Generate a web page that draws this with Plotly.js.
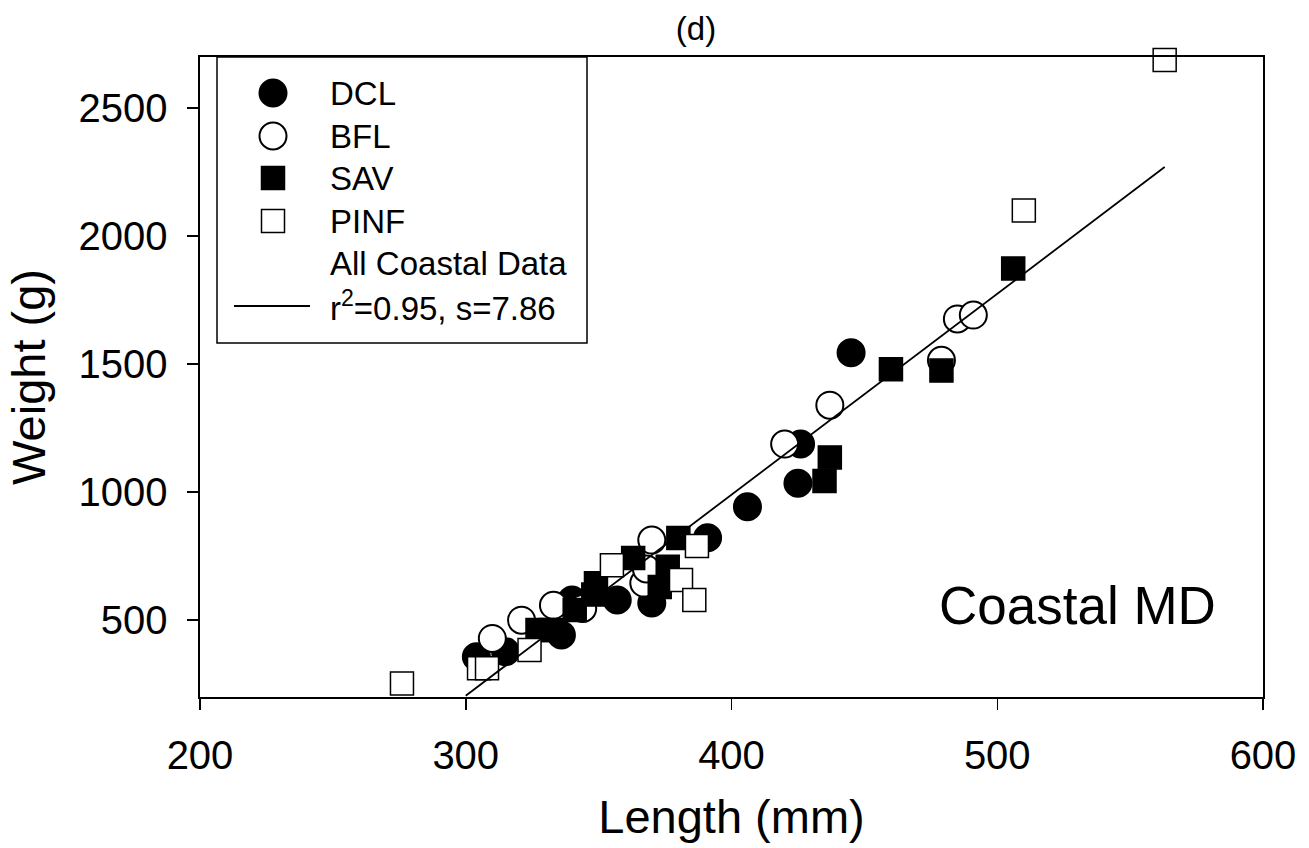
<!DOCTYPE html>
<html>
<head>
<meta charset="utf-8">
<script src="https://cdn.plot.ly/plotly-3.0.1.min.js"></script>
<style>html,body{margin:0;padding:0;background:#fff;}#chart{width:1309px;height:848px;}</style>
</head>
<body>
<div id="chart"></div>
<script>
// ---- Data ----
var dclX = [304, 315, 336, 340, 357, 370, 391, 406, 425, 426, 445];
var dclY = [357, 377, 442, 579, 579, 567, 822, 943, 1035, 1188, 1545];

var bflX = [310, 321, 333, 344, 367, 368, 370, 420, 437, 479, 485, 491];
var bflY = [429, 500, 558, 546, 645, 700, 813, 1188, 1340, 1515, 1677, 1692];

var savX = [327, 332, 341, 348, 349, 363, 373, 376, 380, 435, 437, 460, 479, 506];
var savY = [462, 462, 540, 600, 644, 743, 630, 709, 821, 1044, 1136, 1480, 1475, 1874];

var pinfX = [276, 305, 308, 324, 355, 381, 386, 387, 510, 563];
var pinfY = [253, 312, 312, 384, 715, 657, 579, 790, 2100, 2688];

var fitX = [300, 563];
var fitY = [205, 2270];

var seriesNames = ['DCL', 'BFL', 'SAV', 'PINF'];
var fitLabel1 = 'All Coastal Data';
var fitLabel2 = 'r<sup>2</sup>=0.95, s=7.86';

var xTicks = [200, 300, 400, 500, 600];
var yTicks = [500, 1000, 1500, 2000, 2500];

// ---- Styles ----
var FONT = 'Liberation Sans, Arial, Helvetica, sans-serif';
var styles = [
  {symbol: 'circle', size: 27, color: '#000', line: {color: '#000', width: 2}},
  {symbol: 'circle', size: 27, color: '#fff', line: {color: '#000', width: 2}},
  {symbol: 'square', size: 23, color: '#000', line: {color: '#000', width: 1.5}},
  {symbol: 'square', size: 23, color: '#fff', line: {color: '#000', width: 1.5}}
];
var xs = [dclX, bflX, savX, pinfX];
var ys = [dclY, bflY, savY, pinfY];

var traces = [];
for (var i = 0; i < 4; i++) {
  traces.push({
    type: 'scatter', mode: 'markers', name: seriesNames[i],
    x: xs[i], y: ys[i], marker: styles[i], cliponaxis: false,
    showlegend: false, hoverinfo: 'x+y+name'
  });
}
traces.push({
  type: 'scatter', mode: 'lines', name: 'All Coastal Data',
  x: fitX, y: fitY, line: {color: '#000', width: 1.8},
  showlegend: false
});

// ---- Hand-drawn legend in a pixel-like overlay axis ----
// overlay axes: x2 = pixels from plot left, y2 = pixels from plot top
var legRows = [36, 79, 121, 164, 206, 249];
for (var j = 0; j < 4; j++) {
  traces.push({
    type: 'scatter', mode: 'markers', xaxis: 'x2', yaxis: 'y2',
    x: [73], y: [legRows[j]], marker: styles[j], showlegend: false,
    hoverinfo: 'skip', cliponaxis: false
  });
}

var LEGFONT = {family: FONT, size: 33, color: '#000'};
var annotations = [];
for (var k = 0; k < 4; k++) {
  annotations.push({xref: 'x2', yref: 'y2', x: 128, y: legRows[k], text: seriesNames[k],
    showarrow: false, xanchor: 'left', yanchor: 'middle', font: LEGFONT});
}
annotations.push({xref: 'x2', yref: 'y2', x: 128, y: legRows[4], text: fitLabel1,
  showarrow: false, xanchor: 'left', yanchor: 'middle', font: LEGFONT});
annotations.push({xref: 'x2', yref: 'y2', x: 128, y: legRows[5], text: fitLabel2,
  showarrow: false, xanchor: 'left', yanchor: 'middle', font: LEGFONT});
annotations.push({xref: 'paper', yref: 'paper', x: 0.958, y: 0.143, text: 'Coastal MD',
  showarrow: false, xanchor: 'right', yanchor: 'middle', font: {family: FONT, size: 53, color: '#000'}});

var shapes = [
  {type: 'rect', xref: 'x2', yref: 'y2', x0: 17, x1: 387, y0: 0, y1: 286,
   line: {color: '#000', width: 1.5}, fillcolor: 'rgba(255,255,255,1)', layer: 'below'},
  {type: 'line', xref: 'x2', yref: 'y2', x0: 34, x1: 110, y0: legRows[5], y1: legRows[5],
   line: {color: '#000', width: 1.8}}
];

var layout = {
  width: 1309, height: 848,
  margin: {l: 200, r: 46, t: 57, b: 151, pad: 0},
  paper_bgcolor: '#fff', plot_bgcolor: 'rgba(0,0,0,0)',
  font: {family: FONT, color: '#000'},
  showlegend: false,
  title: {text: '(d)', xref: 'container', yref: 'container', x: 0.5317, y: 0.966,
    xanchor: 'center', yanchor: 'middle', font: {family: FONT, size: 33, color: '#000'}},
  xaxis: {
    range: [200, 600], tickvals: xTicks, ticktext: xTicks.map(String),
    showgrid: false, zeroline: false, showline: true, linecolor: '#000', linewidth: 1.6,
    mirror: true, ticks: 'outside', ticklen: 11, tickwidth: 1.5, tickcolor: '#000',
    tickfont: {family: FONT, size: 40, color: '#000'}, ticklabelstandoff: 11,
    title: {text: 'Length (mm)', font: {family: FONT, size: 47, color: '#000'}, standoff: 24}
  },
  yaxis: {
    range: [200, 2700], tickvals: yTicks, ticktext: yTicks.map(String),
    showgrid: false, zeroline: false, showline: true, linecolor: '#000', linewidth: 1.6,
    mirror: true, ticks: 'outside', ticklen: 11, tickwidth: 1.5, tickcolor: '#000',
    tickfont: {family: FONT, size: 40, color: '#000'}, ticklabelstandoff: 12,
    title: {text: 'Weight (g)', font: {family: FONT, size: 47, color: '#000'}, standoff: 18}
  },
  xaxis2: {overlaying: 'x', range: [0, 1063], visible: false, fixedrange: true},
  yaxis2: {overlaying: 'y', range: [640, 0], visible: false, fixedrange: true},
  annotations: annotations,
  shapes: shapes
};

Plotly.newPlot('chart', traces, layout, {displayModeBar: false, staticPlot: true});
</script>
</body>
</html>
